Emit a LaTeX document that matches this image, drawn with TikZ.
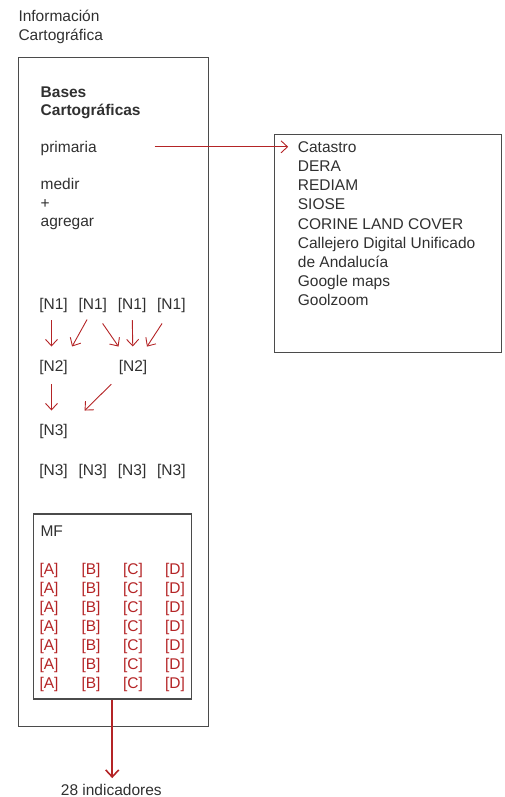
\documentclass[tikz,border=0pt]{standalone}
\usepackage{fontspec}
\setmainfont{Liberation Sans}
\usetikzlibrary{arrows.meta,calc}

\definecolor{rojo}{RGB}{180,36,38}
\definecolor{gris}{RGB}{48,48,48}
\definecolor{borde}{RGB}{75,75,75}

\tikzset{
  txt/.style={inner sep=0pt, text height=11pt, text depth=0pt, text=gris,
    font=\fontsize{15.5}{19}\selectfont},
  caja/.style={draw=borde, line width=1.1pt, inner sep=0pt},
  flecha/.style={draw=rojo, line width=0.9pt, -{Straight Barb[length=6.5pt,width=12pt]}},
}

\begin{document}
\begin{tikzpicture}[x=1pt, y=-1pt]
\useasboundingbox (0,0) rectangle (504,797);

% cajas
\node[caja, minimum width=190.5pt, minimum height=669pt] (marco) at (113.6,392) {};
\node[caja, minimum width=227pt, minimum height=218.5pt] (fuentes) at (388.2,243.3) {};
\node[caja, minimum width=157.7pt, minimum height=185pt] (mf) at (112.2,606.5) {};

% titulo
\node[txt, anchor=west] (info1) at (18.3,16.5) {Información};
\node[txt, anchor=west] (info2) at (18.3,35.5) {Cartográfica};

\node[txt, anchor=west, font=\fontsize{15.5}{19}\selectfont\bfseries] (bases1) at (40.5,91.8) {Bases};
\node[txt, anchor=west, font=\fontsize{15.5}{19}\selectfont\bfseries] (bases2) at (40.5,110.5) {Cartográficas};
\node[txt, anchor=west] (prim) at (40.5,146.8) {primaria};
\node[txt, anchor=west] (medir) at (40.5,184) {medir};
\node[txt, anchor=west] (mas) at (40.5,202.5) {+};
\node[txt, anchor=west] (agreg) at (40.5,221) {agregar};

% lista de fuentes
\foreach \t [count=\i] in {Catastro,DERA,REDIAM,SIOSE,CORINE LAND COVER,Callejero Digital Unificado,de Andalucía,Google maps,Goolzoom}
  \node[txt, anchor=west] (f\i) at (297.7,{146.8+19.2*(\i-1)}) {\t};

\draw[flecha, shorten <=57.8pt, shorten >=9.5pt] (prim.east) -- (f1.west);

% niveles
\foreach \x [count=\i] in {a,b,c,d} {
  \node[txt] (n1\x) at ({53.5+39.3*(\i-1)},303.5) {[N1]};
  \node[txt] (n3\x) at ({53.5+39.3*(\i-1)},470) {[N3]};
}
\node[txt] (n2a) at (53.5,366) {[N2]};
\node[txt] (n2b) at (133,366) {[N2]};
\node[txt] (n3) at (53.5,429.7) {[N3]};

\draw[flecha, shorten <=11pt, shorten >=13.8pt] ($(n1a.south)+(-2,0)$) -- ($(n2a.north)+(-2,0)$);
\draw[flecha, shorten <=11.8pt, shorten >=15.8pt] (n1b.south) -- ($(n2a.north east)+(-3.5,0)$);
\draw[flecha, shorten <=17.3pt, shorten >=16.7pt] (n1b.south) -- ($(n2b.north)+(-5,0)$);
\draw[flecha, shorten <=11pt, shorten >=13.8pt] (n1c.south) -- (n2b.north);
\draw[flecha, shorten <=17pt, shorten >=16.4pt] (n1d.south) -- ($(n2b.north)+(5,0)$);
\draw[flecha, shorten <=12.5pt, shorten >=13.5pt] ($(n2a.south)+(-2,0)$) -- ($(n3.north)+(-2,0)$);
\draw[flecha, shorten <=17.8pt, shorten >=19.2pt] ($(n2b.south)+(-9,0)$) -- ($(n3.north east)+(3,0)$);

% MF
\node[txt, anchor=west] (mft) at (40.3,530.5) {MF};
\foreach \r in {1,...,7}
  \foreach \c [count=\j] in {A,B,C,D}
    \node[txt, text=rojo] (m\r\c) at ({49+42*(\j-1)},{569+19.08*(\r-1)}) {[\c]};

\node[txt] (ind) at (111.3,789.5) {28 indicadores};
\draw[flecha, line width=1.6pt, -{Straight Barb[length=7pt,width=13pt]}, shorten >=5.7pt] (mf.south) -- (mf.south |- ind.north);
\end{tikzpicture}
\end{document}
